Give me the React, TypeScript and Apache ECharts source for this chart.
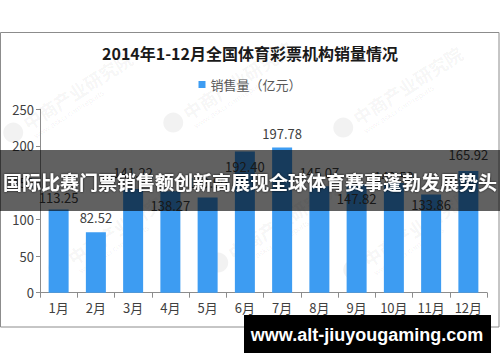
import React, { useEffect, useRef } from "react";
import * as echarts from "echarts";

const titleText = "2014年1-12月全国体育彩票机构销量情况";
const legendName = "销售量（亿元）";
const months = ["1月", "2月", "3月", "4月", "5月", "6月", "7月", "8月", "9月", "10月", "11月", "12月"];
const sales = [113.25, 82.52, 141.22, 138.27, 129.9, 192.4, 197.78, 145.07, 147.82, 149.52, 133.86, 165.92];
const labelInside = [false, false, false, true, false, true, false, false, true, false, true, false];
const labelDistance = [6, 8, 10, 8, 8, 8, 8, 7, 8, 0, 3, 10];
const yTicks = { min: 0, max: 250, interval: 50 };
const bannerText = "国际比赛门票销售额创新高展现全球体育赛事蓬勃发展势头";
const siteText = "www.alt-jiuyougaming.com";

const CJK = '"Noto Sans CJK SC", "Noto Sans", sans-serif';

function watermark(x: number, y: number) {
  return {
    type: "group",
    x,
    y,
    rotation: Math.PI / 5.5,
    silent: true,
    z: 1,
    children: [
      {
        type: "circle",
        shape: { cx: -14, cy: 0, r: 10 },
        style: { fill: "rgba(0,0,0,0.05)" },
      },
      {
        type: "text",
        x: 0,
        y: -10,
        style: { text: "中商产业研究院", fontSize: 18, fontFamily: CJK, fontWeight: "bold", fill: "rgba(0,0,0,0.05)" },
      },
      {
        type: "text",
        x: 2,
        y: 11,
        style: { text: "www.askci.com/reports", fontSize: 8, fontFamily: "Liberation Sans", fill: "rgba(0,0,0,0.06)" },
      },
    ],
  };
}

export default function App() {
  const ref = useRef<HTMLDivElement>(null);
  useEffect(() => {
    if (!ref.current) return;
    const chart = echarts.init(ref.current, undefined, { renderer: "svg" });
    const data = sales.map((v, i) => ({
      value: v,
      label: {
        position: labelInside[i] ? "insideTop" : "top",
        distance: labelDistance[i],
      },
    }));
    chart.setOption({
      animation: false,
      backgroundColor: "#ffffff",
      title: {
        text: titleText,
        left: "center",
        top: 40,
        textStyle: { fontSize: 16, fontWeight: "bold", color: "#1a1a1a", fontFamily: CJK },
      },
      legend: {
        data: [legendName],
        top: 73,
        left: "center",
        itemWidth: 7,
        itemHeight: 7,
        icon: "rect",
        itemGap: 6,
        textStyle: { fontSize: 13, color: "#595959", fontFamily: CJK },
      },
      grid: { left: 40, right: 13, top: 109.3, bottom: 69.3 },
      xAxis: {
        type: "category",
        data: months,
        axisLine: { lineStyle: { color: "#8c8c8c" } },
        axisTick: { show: true, alignWithLabel: false, length: 5, lineStyle: { color: "#8c8c8c" } },
        axisLabel: { fontSize: 13, color: "#404040", fontFamily: CJK, margin: 8 },
      },
      yAxis: {
        type: "value",
        min: yTicks.min,
        max: yTicks.max,
        interval: yTicks.interval,
        axisLine: { show: true, lineStyle: { color: "#8c8c8c" } },
        axisTick: { show: true, length: 4, lineStyle: { color: "#8c8c8c" } },
        splitLine: { show: false },
        axisLabel: { fontSize: 13, color: "#404040", fontFamily: CJK, margin: 6 },
      },
      series: [
        {
          name: legendName,
          type: "bar",
          data,
          barWidth: 20,
          itemStyle: { color: "#3d9cf2" },
          label: {
            show: true,
            color: "#404040",
            fontSize: 13,
            fontFamily: CJK,
            formatter: (p: any) => Number(p.value).toFixed(2),
          },
        },
      ],
      graphic: [
        {
          type: "rect",
          z: 0,
          silent: true,
          shape: { x: 0.5, y: 32.5, width: 498.5, height: 294.5 },
          style: { fill: "none", stroke: "#8c8c8c", lineWidth: 1 },
        },
        watermark(25, 125),
        watermark(185, 115),
        watermark(355, 120),
        watermark(70, 260),
        watermark(230, 255),
        watermark(365, 262),
        {
          type: "rect",
          z: 100,
          silent: true,
          shape: { x: 0, y: 150, width: 500, height: 61 },
          style: { fill: "rgba(0,0,0,0.62)" },
        },
        {
          type: "text",
          z: 101,
          silent: true,
          x: 250,
          y: 181,
          style: {
            text: bannerText,
            fontSize: 19,
            fontWeight: "bold",
            fontFamily: CJK,
            fill: "#ffffff",
            align: "center",
            verticalAlign: "middle",
            textShadowColor: "rgba(0,0,0,0.8)",
            textShadowBlur: 2,
          },
        },
        {
          type: "rect",
          z: 100,
          silent: true,
          shape: { x: 244, y: 315, width: 247, height: 38 },
          style: { fill: "#000000" },
        },
        {
          type: "text",
          z: 101,
          silent: true,
          x: 367,
          y: 335,
          style: {
            text: siteText,
            fontSize: 18,
            fontWeight: "bold",
            fontFamily: '"Liberation Sans", Arial, sans-serif',
            fill: "#ffffff",
            align: "center",
            verticalAlign: "middle",
          },
        },
      ],
    });
    return () => chart.dispose();
  }, []);
  return (
    <div
      ref={ref}
      style={{ position: "absolute", left: 0, top: 0, width: 500, height: 362 }}
    />
  );
}
